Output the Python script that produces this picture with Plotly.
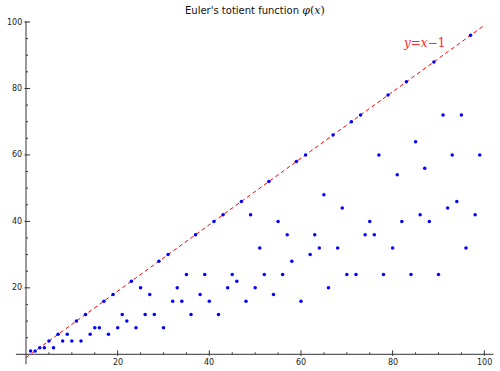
import plotly.graph_objects as go

# Data: Euler's totient phi(n) for n = 1..99
n_values = list(range(1, 100))
phi_values = [1, 1, 2, 2, 4, 2, 6, 4, 6, 4,
              10, 4, 12, 6, 8, 8, 16, 6, 18, 8,
              12, 10, 22, 8, 20, 12, 18, 12, 28, 8,
              30, 16, 20, 16, 24, 12, 36, 18, 24, 16,
              40, 12, 42, 20, 24, 22, 46, 16, 42, 20,
              32, 24, 52, 18, 40, 24, 36, 28, 58, 16,
              60, 30, 36, 32, 48, 20, 66, 32, 44, 24,
              70, 24, 72, 36, 40, 36, 60, 24, 78, 32,
              54, 40, 82, 24, 64, 42, 56, 40, 88, 24,
              72, 44, 60, 46, 72, 32, 96, 42, 60]
line_x = [0, 100]
line_y = [-1, 99]

x_major = [20, 40, 60, 80, 100]
y_major = [20, 40, 60, 80, 100]
x_minor = [v for v in range(5, 101, 5) if v % 20 != 0]
y_minor = [v for v in range(5, 101, 5) if v % 20 != 0]

W, H = 500, 371
px_per_x = 4.583
px_per_y = 3.323
x0_px, y0_px = 26.0, 354.3
xr = [-x0_px / px_per_x, (W - x0_px) / px_per_x]
yr = [-(H - y0_px) / px_per_y, y0_px / px_per_y]

axis_color = '#333333'
fig = go.Figure()

fig.add_trace(go.Scatter(x=line_x, y=line_y, mode='lines',
                         line=dict(color='red', width=1, dash='4px,3px'),
                         hoverinfo='skip', showlegend=False))
fig.add_trace(go.Scatter(x=n_values, y=phi_values, mode='markers',
                         marker=dict(color='blue', size=3.5, line=dict(width=0)),
                         showlegend=False))

shapes = []
shapes.append(dict(type='line', xref='x', yref='y', x0=-2.2, x1=102.0, y0=0, y1=0,
                   line=dict(color=axis_color, width=1)))
shapes.append(dict(type='line', xref='x', yref='y', x0=0, x1=0, y0=-3, y1=100.3,
                   line=dict(color=axis_color, width=1)))
ux = 1 / px_per_x
uy = 1 / px_per_y
for v in x_major:
    shapes.append(dict(type='line', xref='x', yref='y', x0=v, x1=v, y0=-1.5 * uy, y1=4 * uy,
                       line=dict(color=axis_color, width=1)))
for v in x_minor:
    shapes.append(dict(type='line', xref='x', yref='y', x0=v, x1=v, y0=0, y1=2 * uy,
                       line=dict(color=axis_color, width=1)))
for v in y_major:
    shapes.append(dict(type='line', xref='x', yref='y', y0=v, y1=v, x0=-1.5 * ux, x1=4 * ux,
                       line=dict(color=axis_color, width=1)))
for v in y_minor:
    shapes.append(dict(type='line', xref='x', yref='y', y0=v, y1=v, x0=0, x1=2 * ux,
                       line=dict(color=axis_color, width=1)))

annotations = []
tick_font = dict(family='DejaVu Sans', size=8, color='#222222')
for v in x_major:
    annotations.append(dict(x=v, y=0, xref='x', yref='y', text=str(v), showarrow=False,
                            xanchor='center', yanchor='top', yshift=-2, font=tick_font))
for v in y_major:
    annotations.append(dict(x=0, y=v, xref='x', yref='y', text=str(v), showarrow=False,
                            xanchor='right', yanchor='middle', xshift=-2, font=tick_font))

annotations.append(dict(x=255 / W, y=1 - 11 / H, xref='paper', yref='paper',
                        text="Euler's totient function <span style=\"font-family:'DejaVu Serif';font-size:11px\"><i>φ</i>(<i>x</i>)</span>",
                        showarrow=False, xanchor='center', yanchor='middle',
                        font=dict(family='DejaVu Sans', size=10, color='#111111')))
annotations.append(dict(x=86.8, y=93.7, xref='x', yref='y',
                        text='<i>y</i>=<i>x</i>−1', showarrow=False,
                        xanchor='center', yanchor='middle',
                        font=dict(family='DejaVu Serif', size=12, color='#ff2a2a')))

fig.update_layout(
    width=W, height=H,
    margin=dict(l=0, r=0, t=0, b=0),
    paper_bgcolor='white', plot_bgcolor='white',
    xaxis=dict(range=xr, visible=False, fixedrange=True),
    yaxis=dict(range=yr, visible=False, fixedrange=True),
    shapes=shapes, annotations=annotations,
    showlegend=False,
)

fig.write_html("out.html", config={'displayModeBar': False},
               post_script="document.body.style.margin='0';document.body.style.overflow='hidden';")
